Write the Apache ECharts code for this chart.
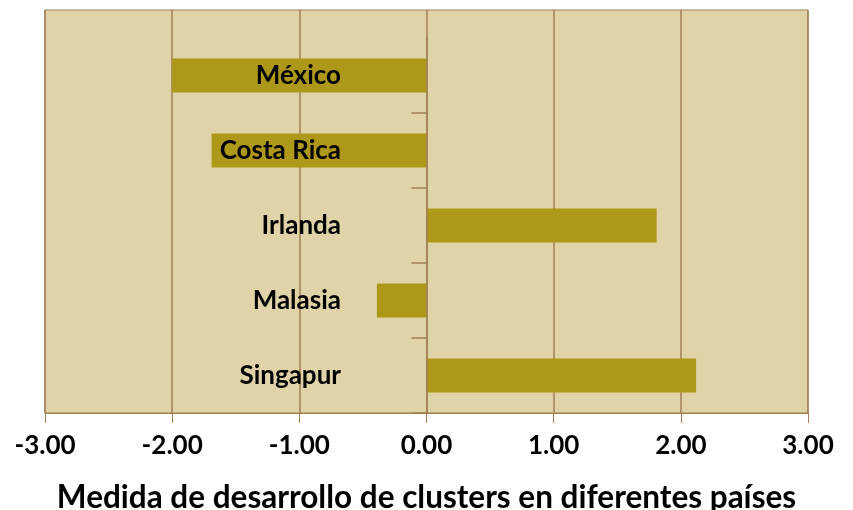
<!DOCTYPE html>
<html>
<head>
<meta charset="utf-8">
<script src="https://cdn.jsdelivr.net/npm/echarts@6/dist/echarts.min.js"></script>
<style>
html,body{margin:0;padding:0;background:#fff;}
#chart{width:853px;height:510px;}
</style>
</head>
<body>
<div id="chart"></div>
<script>
const categories = ['México', 'Costa Rica', 'Irlanda', 'Malasia', 'Singapur'];
const values = [-2.00, -1.69, 1.81, -0.39, 2.12];
const xTicks = [-3, -2, -1, 0, 1, 2, 3];
const axisTitle = 'Medida de desarrollo de clusters en diferentes países';

const lineColor = '#9F8055';
const font = 'Lato';

const chart = echarts.init(document.getElementById('chart'));
chart.setOption({
  animation: false,
  title: {
    text: axisTitle,
    left: 'center',
    top: 477,
    textStyle: {fontFamily: font, fontWeight: 'bold', fontSize: 31.5, color: '#000'}
  },
  grid: [
    {left: 45, right: 45, top: 10, bottom: 97, show: true, backgroundColor: '#E0D3A8', borderColor: lineColor, borderWidth: 1, outerBoundsMode: 'none'},
    {left: 45, right: 45, top: 38, bottom: 97, outerBoundsMode: 'none'}
  ],
  xAxis: [
    {
      gridIndex: 0, type: 'value', min: xTicks[0], max: xTicks[xTicks.length - 1], interval: 1,
      axisLine: {show: true, lineStyle: {color: lineColor, width: 1}},
      axisTick: {show: true, length: 10, lineStyle: {color: lineColor}},
      splitLine: {show: true, lineStyle: {color: lineColor, width: 1.5}},
      axisLabel: {
        margin: 20, color: '#000', fontFamily: font, fontWeight: 'bold', fontSize: 26,
        formatter: v => v.toFixed(2)
      }
    },
    {
      gridIndex: 1, type: 'value', min: xTicks[0], max: xTicks[xTicks.length - 1], interval: 1,
      show: false, splitLine: {show: false}
    }
  ],
  yAxis: [
    {gridIndex: 0, type: 'value', show: false, splitLine: {show: false}},
    {
      gridIndex: 1, type: 'category', data: categories, inverse: true, z: 10,
      axisLine: {show: true, onZero: true, lineStyle: {color: lineColor, width: 1.5}},
      axisTick: {show: true, length: 15, lineStyle: {color: lineColor, width: 1.5},
        interval: (i) => i > 0},
      axisLabel: {show: true, interval: 0, margin: -296, color: '#000', fontFamily: font, fontWeight: 'bold', fontSize: 26}
    }
  ],
  series: [{
    type: 'bar',
    xAxisIndex: 1, yAxisIndex: 1,
    data: values,
    barWidth: 34,
    z: 2,
    itemStyle: {color: '#AE9819'}
  }]
});
</script>
</body>
</html>
